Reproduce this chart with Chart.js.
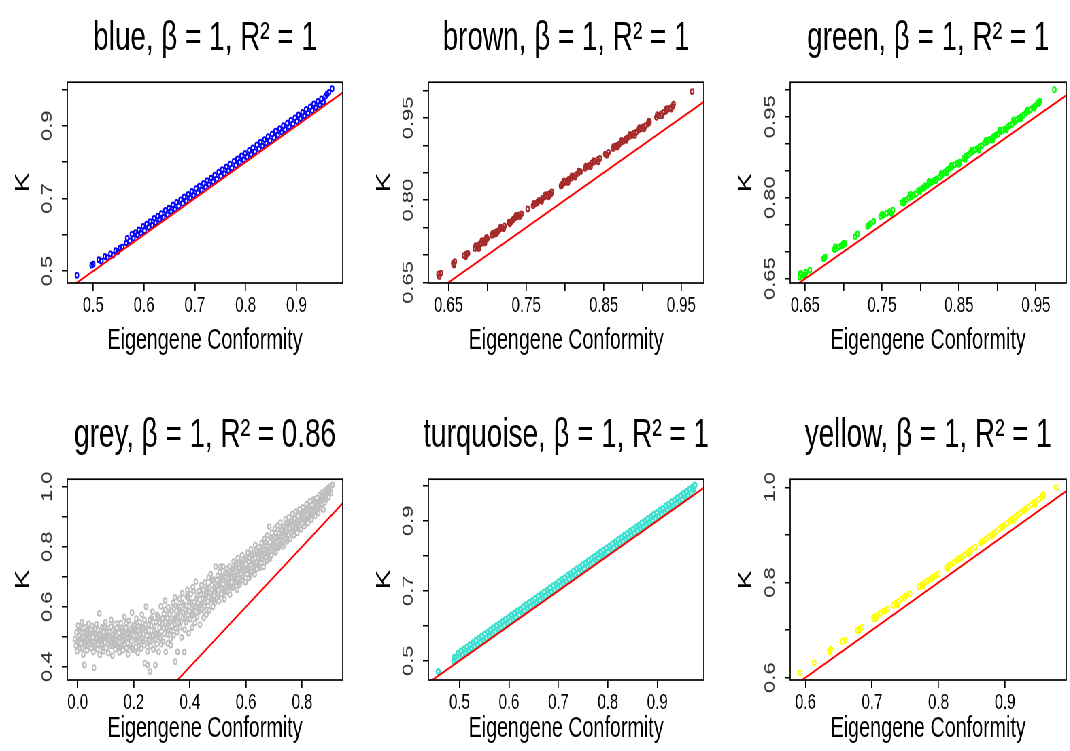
<!DOCTYPE html>
<html>
<head>
<meta charset="utf-8">
<script src="https://cdn.jsdelivr.net/npm/chart.js@4.4.0/dist/chart.umd.min.js"></script>
<style>
  html, body { margin: 0; padding: 0; background: #fff; overflow: hidden; }
  /* the original figure is squeezed horizontally, so draw wide and squeeze */
  #page { position: absolute; left: 0; top: 0; width: 1574px; height: 751px; transform: scaleX(0.68); transform-origin: 0 0; }
  #page canvas { position: absolute; }
</style>
</head>
<body>
<div id="page"></div>
<script>
// Module names, colours and fit statistics
const modules = ['blue', 'brown', 'green', 'grey', 'turquoise', 'yellow'];
const moduleColors = ['#0000FF', '#A52A2A', '#00FF00', '#BEBEBE', '#40E0D0', '#FFFF00'];
const betaValues = ['1', '1', '1', '1', '1', '1'];
const rSquared = ['1', '1', '1', '0.86', '1', '1'];

// Axis ranges
const xLimits = [[0.449, 0.991], [0.624, 0.979], [0.6305, 0.9895], [-0.037, 0.945], [0.437, 0.994], [0.577, 0.992]];
const yLimits = [[0.467, 1.020], [0.649, 1.015], [0.642, 1.014], [0.356, 1.025], [0.445, 1.019], [0.595, 1.017]];

// Tick positions and labels (R drops some labels but keeps the marks)
const xTicks = [
  [0.5, 0.6, 0.7, 0.8, 0.9],
  [0.65, 0.70, 0.75, 0.80, 0.85, 0.90, 0.95],
  [0.65, 0.70, 0.75, 0.80, 0.85, 0.90, 0.95],
  [0.0, 0.2, 0.4, 0.6, 0.8],
  [0.5, 0.6, 0.7, 0.8, 0.9],
  [0.6, 0.7, 0.8, 0.9]
];
const xTickLabels = [
  ['0.5', '0.6', '0.7', '0.8', '0.9'],
  ['0.65', '', '0.75', '', '0.85', '', '0.95'],
  ['0.65', '', '0.75', '', '0.85', '', '0.95'],
  ['0.0', '0.2', '0.4', '0.6', '0.8'],
  ['0.5', '0.6', '0.7', '0.8', '0.9'],
  ['0.6', '0.7', '0.8', '0.9']
];
const yTicks = [
  [0.5, 0.6, 0.7, 0.8, 0.9, 1.0],
  [0.65, 0.70, 0.75, 0.80, 0.85, 0.90, 0.95, 1.00],
  [0.65, 0.70, 0.75, 0.80, 0.85, 0.90, 0.95, 1.00],
  [0.4, 0.5, 0.6, 0.7, 0.8, 0.9, 1.0],
  [0.5, 0.6, 0.7, 0.8, 0.9, 1.0],
  [0.6, 0.7, 0.8, 0.9, 1.0]
];
const yTickLabels = [
  ['0.5', '', '0.7', '', '0.9', ''],
  ['0.65', '', '', '0.80', '', '', '0.95', ''],
  ['0.65', '', '', '0.80', '', '', '0.95', ''],
  ['0.4', '', '0.6', '', '0.8', '', '1.0'],
  ['0.5', '', '0.7', '', '0.9', ''],
  ['0.6', '', '0.8', '', '1.0']
];

// Reference line y = x
const refLine = [-0.1, 1.1];

// Points: [eigengene conformity, K]
const bluePts = [[0.468,0.488],[0.497,0.516],[0.500,0.519],[0.511,0.531],[0.516,0.527],[0.523,0.540],[0.528,0.537],[0.534,0.547],[0.539,0.544],[0.544,0.556],[0.548,0.553],[0.553,0.563],[0.557,0.566],
[0.565,0.577],[0.567,0.590],[0.572,0.583],[0.576,0.601],[0.579,0.590],[0.583,0.606],[0.587,0.599],[0.590,0.613],[0.594,0.604],[0.598,0.623],[0.601,0.611],[0.605,0.629],[0.609,0.620],[0.612,0.636],[0.616,0.626],[0.620,0.645],[0.623,0.633],[0.627,0.651],[0.631,0.642],[0.634,0.658],[0.638,0.648],[0.642,0.667],[0.646,0.655],[0.649,0.673],[0.653,0.664],[0.657,0.682],[0.661,0.670],[0.664,0.689],[0.668,0.679],[0.672,0.696],[0.676,0.686],[0.679,0.704],[0.683,0.693],[0.687,0.711],[0.691,0.701],[0.694,0.719],[0.698,0.708],[0.702,0.727],[0.706,0.715],[0.709,0.734],[0.713,0.723],[0.717,0.741],[0.721,0.731],[0.724,0.749],[0.728,0.738],[0.732,0.756],[0.736,0.746],[0.739,0.764],[0.743,0.753],[0.747,0.772],[0.751,0.761],[0.754,0.779],[0.758,0.768],[0.762,0.787],[0.766,0.776],[0.769,0.794],[0.773,0.784],[0.777,0.802],[0.781,0.791],[0.784,0.809],[0.788,0.799],[0.792,0.817],[0.796,0.806],[0.799,0.824],[0.803,0.814],[0.807,0.832],[0.811,0.821],[0.814,0.839],[0.818,0.829],[0.822,0.847],[0.826,0.836],[0.829,0.855],[0.833,0.844],[0.837,0.862],[0.841,0.852],[0.844,0.870],[0.848,0.859],[0.852,0.877],[0.856,0.867],[0.859,0.885],[0.863,0.874],[0.867,0.892],[0.871,0.882],[0.874,0.900],[0.878,0.889],[0.882,0.907],[0.886,0.897],[0.889,0.915],[0.893,0.905],[0.897,0.922],[0.901,0.912],[0.904,0.930],[0.908,0.920],[0.912,0.937],[0.916,0.927],[0.919,0.945],[0.923,0.935],[0.927,0.952],[0.931,0.942],[0.934,0.960],[0.938,0.950],[0.942,0.967],[0.946,0.957],[0.949,0.974],[0.953,0.965],[0.957,0.981],[0.960,0.987],[0.964,0.992],[0.970,1.002]];

const brownPts = [[0.637,0.665],[0.640,0.667],[0.656,0.685],[0.658,0.688],[0.670,0.699],[0.673,0.702],[0.675,0.703],
[0.684,0.712],[0.686,0.716],[0.688,0.715],[0.690,0.720],[0.692,0.721],[0.694,0.724],[0.696,0.725],[0.698,0.729],[0.700,0.730],
[0.706,0.736],[0.709,0.738],[0.711,0.742],[0.714,0.744],[0.716,0.747],[0.719,0.749],[0.722,0.753],
[0.728,0.760],[0.731,0.761],[0.734,0.766],[0.736,0.768],[0.739,0.770],[0.741,0.773],[0.744,0.775],[0.752,0.784],
[0.759,0.790],[0.761,0.793],[0.764,0.795],[0.766,0.799],[0.769,0.800],[0.771,0.803],[0.774,0.806],[0.777,0.808],[0.780,0.812],[0.783,0.815],
[0.795,0.826],[0.797,0.830],[0.800,0.832],[0.803,0.835],[0.805,0.838],[0.808,0.840],[0.811,0.843],[0.814,0.846],[0.817,0.849],[0.820,0.852],
[0.826,0.858],[0.829,0.861],[0.832,0.864],[0.835,0.868],[0.838,0.870],[0.842,0.874],[0.845,0.876],[0.852,0.884],[0.856,0.887],
[0.862,0.894],[0.865,0.897],[0.867,0.900],[0.870,0.902],[0.872,0.905],[0.875,0.907],[0.878,0.911],[0.880,0.913],[0.883,0.916],[0.886,0.918],[0.889,0.922],[0.892,0.924],[0.895,0.928],[0.898,0.930],[0.901,0.934],[0.904,0.936],[0.907,0.939],[0.909,0.942],
[0.918,0.951],[0.921,0.954],[0.924,0.957],[0.927,0.960],[0.930,0.962],[0.933,0.966],[0.936,0.968],[0.939,0.971],[0.964,0.998],
[0.638,0.661],[0.657,0.682],[0.672,0.697],[0.685,0.717],[0.689,0.712],[0.693,0.726],[0.697,0.722],[0.699,0.732],[0.707,0.740],[0.712,0.739],[0.717,0.751],[0.721,0.748],[0.729,0.757],[0.733,0.764],[0.737,0.772],[0.742,0.770],[0.760,0.794],[0.765,0.797],[0.770,0.798],[0.775,0.810],[0.779,0.806],[0.782,0.811],[0.796,0.827],[0.799,0.835],[0.804,0.832],[0.809,0.844],[0.813,0.842],[0.818,0.853],[0.827,0.862],[0.833,0.861],[0.837,0.872],[0.843,0.870],[0.854,0.882],[0.863,0.898],[0.868,0.897],[0.873,0.909],[0.879,0.909],[0.884,0.920],[0.890,0.918],[0.896,0.932],[0.902,0.930],[0.908,0.944],[0.919,0.956],[0.925,0.954],[0.931,0.967],[0.937,0.966],[0.940,0.975]];

const greenPts = [[0.643,0.653],[0.645,0.658],[0.648,0.656],[0.651,0.662],[0.656,0.666],[0.674,0.687],[0.676,0.690],
[0.688,0.704],[0.691,0.706],[0.694,0.709],[0.697,0.711],[0.700,0.716],[0.702,0.715],[0.715,0.728],[0.718,0.733],
[0.731,0.747],[0.735,0.752],[0.739,0.756],[0.748,0.765],[0.752,0.768],[0.756,0.771],[0.760,0.774],[0.764,0.777],
[0.776,0.791],[0.779,0.795],[0.782,0.796],[0.785,0.800],[0.788,0.802],[0.791,0.805],[0.794,0.807],
[0.797,0.813],[0.800,0.815],[0.803,0.818],[0.806,0.822],[0.809,0.823],[0.812,0.827],[0.815,0.829],[0.818,0.832],[0.821,0.835],[0.825,0.838],[0.828,0.842],
[0.832,0.848],[0.835,0.852],[0.838,0.855],[0.841,0.857],[0.844,0.861],[0.848,0.864],[0.851,0.866],
[0.856,0.873],[0.859,0.877],[0.862,0.879],[0.865,0.883],[0.868,0.885],[0.871,0.889],[0.874,0.891],[0.877,0.895],[0.880,0.897],[0.883,0.901],[0.886,0.903],[0.889,0.907],[0.892,0.909],
[0.895,0.913],[0.898,0.916],[0.901,0.918],[0.904,0.922],[0.907,0.925],[0.910,0.927],[0.913,0.931],[0.916,0.934],[0.919,0.936],[0.922,0.940],
[0.925,0.944],[0.928,0.947],[0.931,0.950],[0.934,0.953],[0.937,0.957],[0.940,0.960],[0.943,0.963],[0.946,0.967],[0.949,0.970],[0.952,0.975],[0.955,0.979],[0.974,1.000],
[0.644,0.660],[0.650,0.657],[0.689,0.709],[0.699,0.712],[0.733,0.749],[0.750,0.769],[0.762,0.771],[0.778,0.790],[0.787,0.806],[0.799,0.811],[0.805,0.818],[0.811,0.830],[0.820,0.832],[0.827,0.845],[0.834,0.846],[0.840,0.860],[0.850,0.862],[0.858,0.871],[0.867,0.888],[0.876,0.888],[0.885,0.906],[0.894,0.907],[0.903,0.925],[0.912,0.926],[0.921,0.944],[0.930,0.946],[0.939,0.962],[0.948,0.966],[0.954,0.975]];

const greyPts = [[-0.010,0.492],[-0.006,0.470],[-0.004,0.515],[-0.002,0.452],[0.001,0.537],[0.003,0.488],[0.006,0.503],[0.008,0.461],[0.010,0.526],[0.013,0.478],[0.015,0.548],[0.018,0.497],[0.020,0.441],[0.022,0.514],[0.024,0.406],[0.026,0.470],[0.029,0.532],[0.031,0.489],[0.034,0.455],[0.036,0.508],[0.039,0.544],[0.041,0.476],[0.044,0.497],[0.046,0.522],[0.049,0.462],
[0.051,0.536],[0.053,0.484],[0.056,0.450],[0.058,0.397],[0.060,0.512],[0.062,0.470],[0.065,0.498],[0.067,0.541],[0.070,0.458],[0.072,0.521],[0.075,0.487],[0.077,0.578],[0.079,0.440],[0.082,0.506],[0.084,0.472],[0.087,0.531],[0.089,0.495],[0.092,0.452],[0.094,0.517],[0.097,0.481],[0.099,0.549],
[0.102,0.463],[0.104,0.502],[0.107,0.528],[0.109,0.446],[0.112,0.489],[0.114,0.515],[0.117,0.471],[0.119,0.556],[0.122,0.496],[0.124,0.437],[0.127,0.520],[0.129,0.478],[0.132,0.541],[0.134,0.458],[0.137,0.505],[0.139,0.486],[0.142,0.530],[0.144,0.467],[0.147,0.512],[0.149,0.448],
[0.152,0.497],[0.154,0.545],[0.157,0.474],[0.159,0.519],[0.162,0.455],[0.164,0.503],[0.167,0.566],[0.169,0.486],[0.172,0.530],[0.174,0.462],[0.177,0.511],[0.179,0.442],[0.182,0.553],[0.184,0.494],[0.187,0.526],[0.189,0.471],[0.192,0.507],[0.194,0.580],[0.197,0.457],[0.199,0.538],
[0.202,0.489],[0.204,0.518],[0.207,0.466],[0.209,0.560],[0.212,0.501],[0.214,0.447],[0.217,0.533],[0.219,0.482],[0.222,0.548],[0.224,0.510],[0.227,0.461],[0.229,0.574],[0.232,0.495],[0.234,0.527],[0.237,0.472],[0.239,0.412],[0.242,0.541],[0.244,0.600],[0.246,0.504],[0.249,0.452],[0.249,0.406],
[0.252,0.521],[0.254,0.486],[0.257,0.556],[0.258,0.384],[0.260,0.470],[0.262,0.537],[0.265,0.503],[0.267,0.584],[0.270,0.458],[0.272,0.522],[0.275,0.491],[0.277,0.406],[0.279,0.549],[0.282,0.476],[0.284,0.512],[0.287,0.567],[0.289,0.450],[0.292,0.530],[0.294,0.497],[0.297,0.601],[0.299,0.518],
[0.302,0.544],[0.304,0.484],[0.307,0.576],[0.309,0.511],[0.312,0.620],[0.314,0.450],[0.316,0.530],[0.319,0.562],[0.321,0.478],[0.323,0.598],[0.326,0.522],[0.328,0.549],[0.331,0.494],[0.332,0.472],[0.335,0.586],[0.337,0.537],[0.340,0.613],[0.342,0.505],[0.345,0.558],[0.347,0.631],[0.348,0.417],[0.349,0.528],
[0.352,0.571],[0.354,0.515],[0.356,0.450],[0.358,0.600],[0.360,0.547],[0.363,0.626],[0.365,0.532],[0.368,0.583],[0.370,0.498],[0.373,0.645],[0.375,0.561],[0.378,0.606],[0.380,0.449],[0.381,0.524],[0.384,0.590],[0.386,0.548],[0.389,0.634],[0.391,0.656],[0.393,0.572],[0.396,0.512],[0.398,0.617],
[0.401,0.558],[0.403,0.642],[0.406,0.593],[0.408,0.530],[0.411,0.665],[0.413,0.576],[0.416,0.615],[0.418,0.547],[0.421,0.684],[0.423,0.600],[0.426,0.566],[0.428,0.636],[0.431,0.583],[0.433,0.652],[0.436,0.540],[0.438,0.609],[0.441,0.672],[0.443,0.591],[0.446,0.627],[0.448,0.656],[0.449,0.563],
[0.452,0.602],[0.454,0.681],[0.457,0.637],[0.459,0.574],[0.462,0.660],[0.464,0.617],[0.467,0.697],[0.469,0.588],[0.472,0.645],[0.474,0.709],[0.477,0.623],[0.479,0.672],[0.482,0.600],[0.484,0.690],[0.487,0.651],[0.489,0.614],[0.492,0.734],[0.494,0.668],[0.496,0.631],[0.499,0.703],
[0.502,0.655],[0.504,0.619],[0.507,0.716],[0.509,0.680],[0.510,0.734],[0.513,0.642],[0.516,0.698],[0.518,0.734],[0.521,0.661],[0.523,0.625],[0.526,0.712],[0.528,0.683],[0.531,0.649],[0.533,0.727],[0.536,0.695],[0.538,0.668],[0.541,0.734],[0.543,0.641],[0.546,0.710],[0.548,0.682],
[0.551,0.727],[0.553,0.664],[0.556,0.750],[0.558,0.700],[0.561,0.681],[0.563,0.739],[0.566,0.716],[0.568,0.657],[0.571,0.762],[0.573,0.692],[0.576,0.728],[0.578,0.674],[0.581,0.749],[0.583,0.708],[0.586,0.771],[0.588,0.690],[0.591,0.735],[0.593,0.718],[0.596,0.758],[0.598,0.682],
[0.601,0.742],[0.603,0.710],[0.606,0.780],[0.608,0.727],[0.611,0.696],[0.613,0.763],[0.616,0.739],[0.618,0.791],[0.621,0.716],[0.623,0.754],[0.626,0.731],[0.628,0.774],[0.631,0.708],[0.633,0.806],[0.636,0.748],[0.638,0.726],[0.641,0.785],[0.643,0.762],[0.646,0.737],[0.648,0.798],
[0.651,0.771],[0.653,0.745],[0.656,0.812],[0.658,0.758],[0.661,0.790],[0.663,0.733],[0.666,0.826],[0.668,0.777],[0.671,0.804],[0.673,0.752],[0.676,0.838],[0.678,0.788],[0.681,0.766],[0.683,0.867],[0.686,0.815],[0.688,0.796],[0.691,0.773],[0.693,0.846],[0.696,0.824],[0.698,0.785],
[0.701,0.806],[0.703,0.860],[0.706,0.781],[0.708,0.832],[0.711,0.815],[0.713,0.870],[0.716,0.797],[0.718,0.845],[0.721,0.822],[0.723,0.880],[0.726,0.808],[0.728,0.856],[0.731,0.836],[0.733,0.801],[0.736,0.868],[0.738,0.827],[0.741,0.891],[0.743,0.849],[0.746,0.818],[0.748,0.874],
[0.751,0.840],[0.753,0.898],[0.756,0.862],[0.758,0.827],[0.761,0.885],[0.763,0.850],[0.766,0.909],[0.768,0.871],[0.771,0.838],[0.773,0.893],[0.776,0.860],[0.778,0.917],[0.781,0.878],[0.783,0.847],[0.786,0.902],[0.788,0.869],[0.791,0.924],[0.793,0.887],[0.796,0.858],[0.798,0.910],
[0.801,0.878],[0.803,0.931],[0.806,0.897],[0.808,0.868],[0.811,0.918],[0.813,0.889],[0.816,0.942],[0.818,0.906],[0.821,0.879],[0.823,0.927],[0.826,0.898],[0.828,0.951],[0.831,0.914],[0.833,0.890],[0.836,0.937],[0.838,0.908],[0.841,0.958],[0.843,0.924],[0.846,0.903],[0.848,0.945],
[0.851,0.918],[0.853,0.963],[0.856,0.934],[0.858,0.912],[0.861,0.951],[0.863,0.972],[0.866,0.929],[0.868,0.958],[0.871,0.943],[0.873,0.981],[0.876,0.924],[0.878,0.966],[0.881,0.948],[0.883,0.988],[0.886,0.957],[0.888,0.975],[0.891,0.994],[0.894,0.965],[0.897,0.983],[0.900,1.000],[0.903,0.979],[0.909,1.006],
[0.002,0.481],[0.005,0.520],[0.011,0.495],[0.016,0.463],[0.019,0.529],[0.025,0.487],[0.028,0.510],[0.033,0.471],[0.037,0.524],[0.042,0.501],[0.047,0.484],[0.052,0.512],[0.057,0.467],[0.063,0.527],[0.068,0.493],[0.073,0.476],[0.078,0.510],[0.083,0.488],[0.088,0.463],[0.093,0.530],[0.098,0.499],[0.103,0.519],[0.108,0.479],[0.113,0.503],[0.118,0.533],[0.123,0.469],[0.128,0.492],[0.133,0.515],[0.138,0.477],[0.143,0.544],[0.148,0.496],[0.153,0.468],[0.158,0.528],[0.163,0.487],[0.168,0.510],[0.173,0.545],[0.178,0.479],[0.183,0.517],[0.188,0.500],[0.193,0.463],[0.198,0.522],[0.203,0.540],[0.208,0.492],[0.213,0.522],[0.218,0.471],[0.223,0.505],[0.228,0.531],[0.233,0.485],[0.238,0.556],[0.243,0.518],[0.248,0.480],[0.253,0.540],[0.258,0.505],[0.263,0.561],[0.268,0.489],[0.273,0.534],[0.278,0.512],[0.283,0.573],[0.288,0.500],[0.293,0.547],[0.298,0.476],
[0.303,0.561],[0.308,0.529],[0.313,0.590],[0.318,0.508],[0.322,0.545],[0.327,0.575],[0.333,0.519],[0.338,0.560],[0.343,0.593],[0.346,0.540],[0.351,0.602],[0.357,0.566],[0.362,0.590],[0.367,0.549],[0.372,0.614],[0.377,0.580],[0.383,0.560],[0.388,0.603],[0.394,0.630],[0.399,0.585],[0.404,0.614],[0.409,0.571],[0.414,0.652],[0.419,0.598],[0.424,0.628],[0.429,0.610],[0.434,0.589],[0.439,0.640],[0.444,0.612],[0.450,0.585],[0.455,0.628],[0.460,0.650],[0.465,0.603],[0.470,0.665],[0.475,0.637],[0.480,0.686],[0.485,0.622],[0.490,0.660],[0.495,0.690],[0.500,0.640],[0.505,0.675],[0.511,0.700],[0.515,0.660],[0.520,0.690],[0.525,0.650],[0.530,0.714],[0.535,0.679],[0.540,0.705],[0.545,0.665],[0.550,0.700],[0.555,0.725],[0.560,0.690],[0.565,0.745],[0.570,0.708],[0.575,0.682],[0.580,0.730],[0.585,0.745],[0.590,0.700],[0.595,0.725],
[0.600,0.763],[0.605,0.722],[0.610,0.748],[0.615,0.705],[0.620,0.770],[0.625,0.744],[0.630,0.722],[0.635,0.785],[0.640,0.750],[0.645,0.775],[0.650,0.730],[0.655,0.790],[0.660,0.768],[0.665,0.748],[0.670,0.815],[0.675,0.780],[0.680,0.800],[0.685,0.760],[0.690,0.830],[0.695,0.805],[0.700,0.785],[0.705,0.845],[0.710,0.800],[0.715,0.830],[0.720,0.805],[0.725,0.855],[0.730,0.818],[0.735,0.845],[0.740,0.830],[0.745,0.865],[0.750,0.825],[0.755,0.880],[0.760,0.848],[0.765,0.868],[0.770,0.852],[0.775,0.895],[0.780,0.862],[0.785,0.884],[0.790,0.870],[0.795,0.905],[0.800,0.892],[0.805,0.915],[0.810,0.880],[0.815,0.925],[0.820,0.895],[0.825,0.938],[0.830,0.905],[0.835,0.925],[0.840,0.915],[0.845,0.950],[0.850,0.930],[0.855,0.948],[0.860,0.935],[0.865,0.962],[0.870,0.955],[0.875,0.972],[0.880,0.962],[0.885,0.978],[0.890,0.985],[0.895,0.992]];

const turquoisePts = [[0.457,0.469],
[0.488,0.498],[0.490,0.510],[0.494,0.505],[0.497,0.521],[0.500,0.511],[0.503,0.527],[0.506,0.517],[0.509,0.533],[0.512,0.523],[0.515,0.539],[0.518,0.529],[0.521,0.545],[0.524,0.535],[0.527,0.551],[0.530,0.541],[0.533,0.558],[0.536,0.546],[0.539,0.563],[0.542,0.553],[0.545,0.570],[0.548,0.559],[0.551,0.576],[0.554,0.565],[0.557,0.581],[0.560,0.571],[0.563,0.588],[0.566,0.577],[0.569,0.594],[0.572,0.583],[0.575,0.600],[0.578,0.589],[0.581,0.605],[0.584,0.595],[0.587,0.612],[0.590,0.601],[0.593,0.618],[0.596,0.607],[0.599,0.623],[0.602,0.613],[0.605,0.630],[0.608,0.619],[0.611,0.635],[0.614,0.625],[0.617,0.642],[0.620,0.631],[0.623,0.647],[0.626,0.637],[0.629,0.654],[0.632,0.643],[0.635,0.660],[0.638,0.649],[0.641,0.666],[0.644,0.655],[0.647,0.671],[0.650,0.661],[0.653,0.678],[0.656,0.667],[0.659,0.684],[0.662,0.673],[0.665,0.689],[0.668,0.679],[0.671,0.696],[0.674,0.685],[0.677,0.701],[0.680,0.691],[0.683,0.708],[0.686,0.697],[0.689,0.714],[0.692,0.703],[0.695,0.719],[0.698,0.709],
[0.701,0.726],[0.704,0.715],[0.707,0.732],[0.710,0.721],[0.713,0.737],[0.716,0.727],[0.719,0.744],[0.722,0.733],[0.725,0.749],[0.728,0.739],[0.731,0.756],[0.734,0.745],[0.737,0.762],[0.740,0.751],[0.743,0.767],[0.746,0.757],[0.749,0.774],[0.752,0.763],[0.755,0.779],[0.758,0.769],[0.761,0.786],[0.764,0.775],[0.767,0.791],[0.770,0.781],[0.773,0.798],[0.776,0.787],[0.779,0.803],[0.782,0.793],[0.785,0.810],[0.788,0.799],[0.791,0.815],[0.794,0.805],[0.797,0.822],[0.800,0.811],
[0.803,0.827],[0.806,0.817],[0.809,0.834],[0.812,0.823],[0.815,0.839],[0.818,0.829],[0.821,0.846],[0.824,0.835],[0.827,0.851],[0.830,0.841],[0.833,0.858],[0.836,0.847],[0.839,0.863],[0.842,0.853],[0.845,0.870],[0.848,0.859],[0.851,0.875],[0.854,0.865],[0.857,0.882],[0.860,0.871],[0.863,0.887],[0.866,0.877],[0.869,0.894],[0.872,0.883],[0.875,0.899],[0.878,0.889],[0.881,0.906],[0.884,0.895],[0.887,0.911],[0.890,0.901],[0.893,0.918],[0.896,0.907],[0.899,0.923],
[0.902,0.913],[0.905,0.930],[0.908,0.919],[0.911,0.935],[0.914,0.925],[0.917,0.942],[0.920,0.931],[0.923,0.947],[0.926,0.937],[0.929,0.954],[0.932,0.943],[0.935,0.959],[0.938,0.949],[0.941,0.966],[0.944,0.955],[0.947,0.971],[0.950,0.961],[0.953,0.978],[0.956,0.967],[0.959,0.983],[0.962,0.973],[0.965,0.990],[0.968,0.980],[0.971,0.996],[0.974,0.990],[0.976,1.002]];

const yellowPts = [[0.592,0.610],[0.613,0.631],[0.636,0.656],[0.638,0.660],[0.655,0.676],[0.660,0.679],[0.678,0.699],[0.682,0.703],[0.685,0.706],[0.702,0.724],[0.704,0.728],
[0.709,0.731],[0.712,0.735],[0.716,0.738],[0.720,0.741],[0.724,0.745],
[0.732,0.752],[0.736,0.757],[0.740,0.760],[0.744,0.765],[0.748,0.768],[0.752,0.772],[0.757,0.776],
[0.771,0.791],[0.775,0.796],[0.779,0.799],[0.783,0.803],[0.788,0.807],[0.792,0.811],[0.796,0.815],[0.800,0.818],
[0.812,0.831],[0.815,0.835],[0.819,0.838],[0.823,0.842],[0.827,0.846],[0.831,0.850],[0.835,0.853],[0.839,0.858],[0.843,0.862],[0.847,0.866],[0.851,0.870],[0.855,0.874],
[0.863,0.883],[0.867,0.887],[0.871,0.891],[0.875,0.895],[0.879,0.899],[0.883,0.903],[0.887,0.907],[0.891,0.912],[0.895,0.916],[0.899,0.920],[0.903,0.924],
[0.907,0.929],[0.911,0.933],[0.915,0.937],[0.919,0.942],[0.923,0.946],[0.927,0.950],[0.931,0.954],[0.935,0.958],[0.939,0.963],[0.943,0.967],[0.947,0.971],[0.951,0.975],[0.955,0.979],[0.958,0.983],
[0.977,1.000],
[0.637,0.654],[0.681,0.700],[0.706,0.724],[0.718,0.740],[0.738,0.753],[0.750,0.771],[0.777,0.793],[0.790,0.809],[0.814,0.829],[0.829,0.849],[0.845,0.860],[0.865,0.886],[0.881,0.898],[0.897,0.918],[0.913,0.930],[0.929,0.952],[0.945,0.964],[0.957,0.985]];

const modulePoints = [bluePts, brownPts, greenPts, greyPts, turquoisePts, yellowPts];

// ---- layout (page pixels are squeezed by SQUEEZE horizontally) ----
const SQUEEZE = 0.68;
const FONT = '"Liberation Sans", Arial, sans-serif';
const boxLeft = [67.5, 428.2, 790];      // on-screen left edge of each plot box
const boxWidth = [275.5, 275.3, 276];
const rowTop = [0, 397];
const BOX_H = 201;
const xAxisH = [76, 68];
const xTitlePad = [0.6, 1.6];
const Y_AXIS_W = 90;
const TICK_LEN = 8;
const TICK_FONT = 22;

const measureCtx = document.createElement('canvas').getContext('2d');
measureCtx.font = TICK_FONT + 'px ' + FONT;

// draws the box round the plot region
const boxPlugin = {
  id: 'plotBox',
  afterDatasetsDraw(chart) {
    const a = chart.chartArea;
    const ctx = chart.ctx;
    ctx.save();
    ctx.strokeStyle = '#000';
    ctx.lineWidth = 1.7;
    ctx.strokeRect(a.left, a.top, a.right - a.left, a.bottom - a.top);
    ctx.restore();
  }
};

function createPanel(i) {
  const col = i % 3;
  const row = Math.floor(i / 3);
  const innerW = Math.round(boxWidth[col] / SQUEEZE);
  const canvas = document.createElement('canvas');
  canvas.width = innerW + 2 * Y_AXIS_W;
  canvas.height = 82 + BOX_H + xAxisH[row];
  canvas.style.left = (boxLeft[col] / SQUEEZE - Y_AXIS_W) + 'px';
  canvas.style.top = rowTop[row] + 'px';
  document.getElementById('page').appendChild(canvas);

  // centre rotated y labels at a fixed distance from the box
  const widest = Math.max(...yTickLabels[i].map(t => measureCtx.measureText(t).width));
  const yPad = 29 - TICK_LEN - widest / 2;

  new Chart(canvas.getContext('2d'), {
    type: 'scatter',
    data: {
      datasets: [
        {
          data: refLine.map(v => ({ x: v, y: v })),
          showLine: true,
          borderColor: '#FF0000',
          borderWidth: 2,
          pointRadius: 0
        },
        {
          data: modulePoints[i].map(p => ({ x: p[0], y: p[1] })),
          pointStyle: 'circle',
          pointRadius: 2.4,
          borderWidth: modules[i] === 'turquoise' ? 2.6 : 2.0,
          borderColor: moduleColors[i],
          backgroundColor: 'rgba(0,0,0,0)'
        }
      ]
    },
    options: {
      responsive: false,
      animation: false,
      events: [],
      layout: { padding: 0 },
      plugins: {
        legend: { display: false },
        tooltip: { enabled: false },
        title: {
          display: true,
          text: `${modules[i]}, \u03B2 = ${betaValues[i]}, R\u00B2 = ${rSquared[i]}`,
          color: '#000',
          font: { family: FONT, size: 41, weight: 'normal' },
          padding: { top: 14, bottom: 19 }
        }
      },
      scales: {
        x: {
          type: 'linear',
          position: 'bottom',
          min: xLimits[i][0],
          max: xLimits[i][1],
          afterBuildTicks: s => { s.ticks = xTicks[i].map(v => ({ value: v })); },
          afterFit: s => { s.height = xAxisH[row]; },
          ticks: {
            autoSkip: false,
            maxRotation: 0,
            padding: 1.3,
            color: '#000',
            font: { family: FONT, size: TICK_FONT },
            callback: (v, idx) => xTickLabels[i][idx]
          },
          grid: { drawOnChartArea: false, drawTicks: true, tickLength: TICK_LEN, color: '#000', lineWidth: 1.7 },
          border: { display: false },
          title: {
            display: true,
            text: 'Eigengene Conformity',
            color: '#000',
            font: { family: FONT, size: 29 },
            padding: { top: 0, bottom: xTitlePad[row] }
          }
        },
        y: {
          type: 'linear',
          position: 'left',
          min: yLimits[i][0],
          max: yLimits[i][1],
          afterBuildTicks: s => { s.ticks = yTicks[i].map(v => ({ value: v })); },
          afterFit: s => { s.width = Y_AXIS_W; },
          ticks: {
            autoSkip: false,
            minRotation: 90,
            maxRotation: 90,
            crossAlign: 'center',
            padding: yPad,
            color: '#333',
            font: { family: FONT, size: TICK_FONT },
            callback: (v, idx) => yTickLabels[i][idx]
          },
          grid: { drawOnChartArea: false, drawTicks: true, tickLength: TICK_LEN, color: '#000', lineWidth: 1.5 },
          border: { display: false },
          title: {
            display: true,
            text: 'K',
            color: '#000',
            font: { family: FONT, size: 29 },
            padding: { top: 7.9, bottom: 0 }
          }
        },
        // empty axis on the right so the title centres over the box
        yRight: {
          type: 'linear',
          position: 'right',
          display: true,
          afterFit: s => { s.width = Y_AXIS_W; },
          ticks: { display: false },
          grid: { display: false },
          border: { display: false }
        }
      }
    },
    plugins: [boxPlugin]
  });
}

modules.forEach((m, i) => createPanel(i));
</script>
</body>
</html>
